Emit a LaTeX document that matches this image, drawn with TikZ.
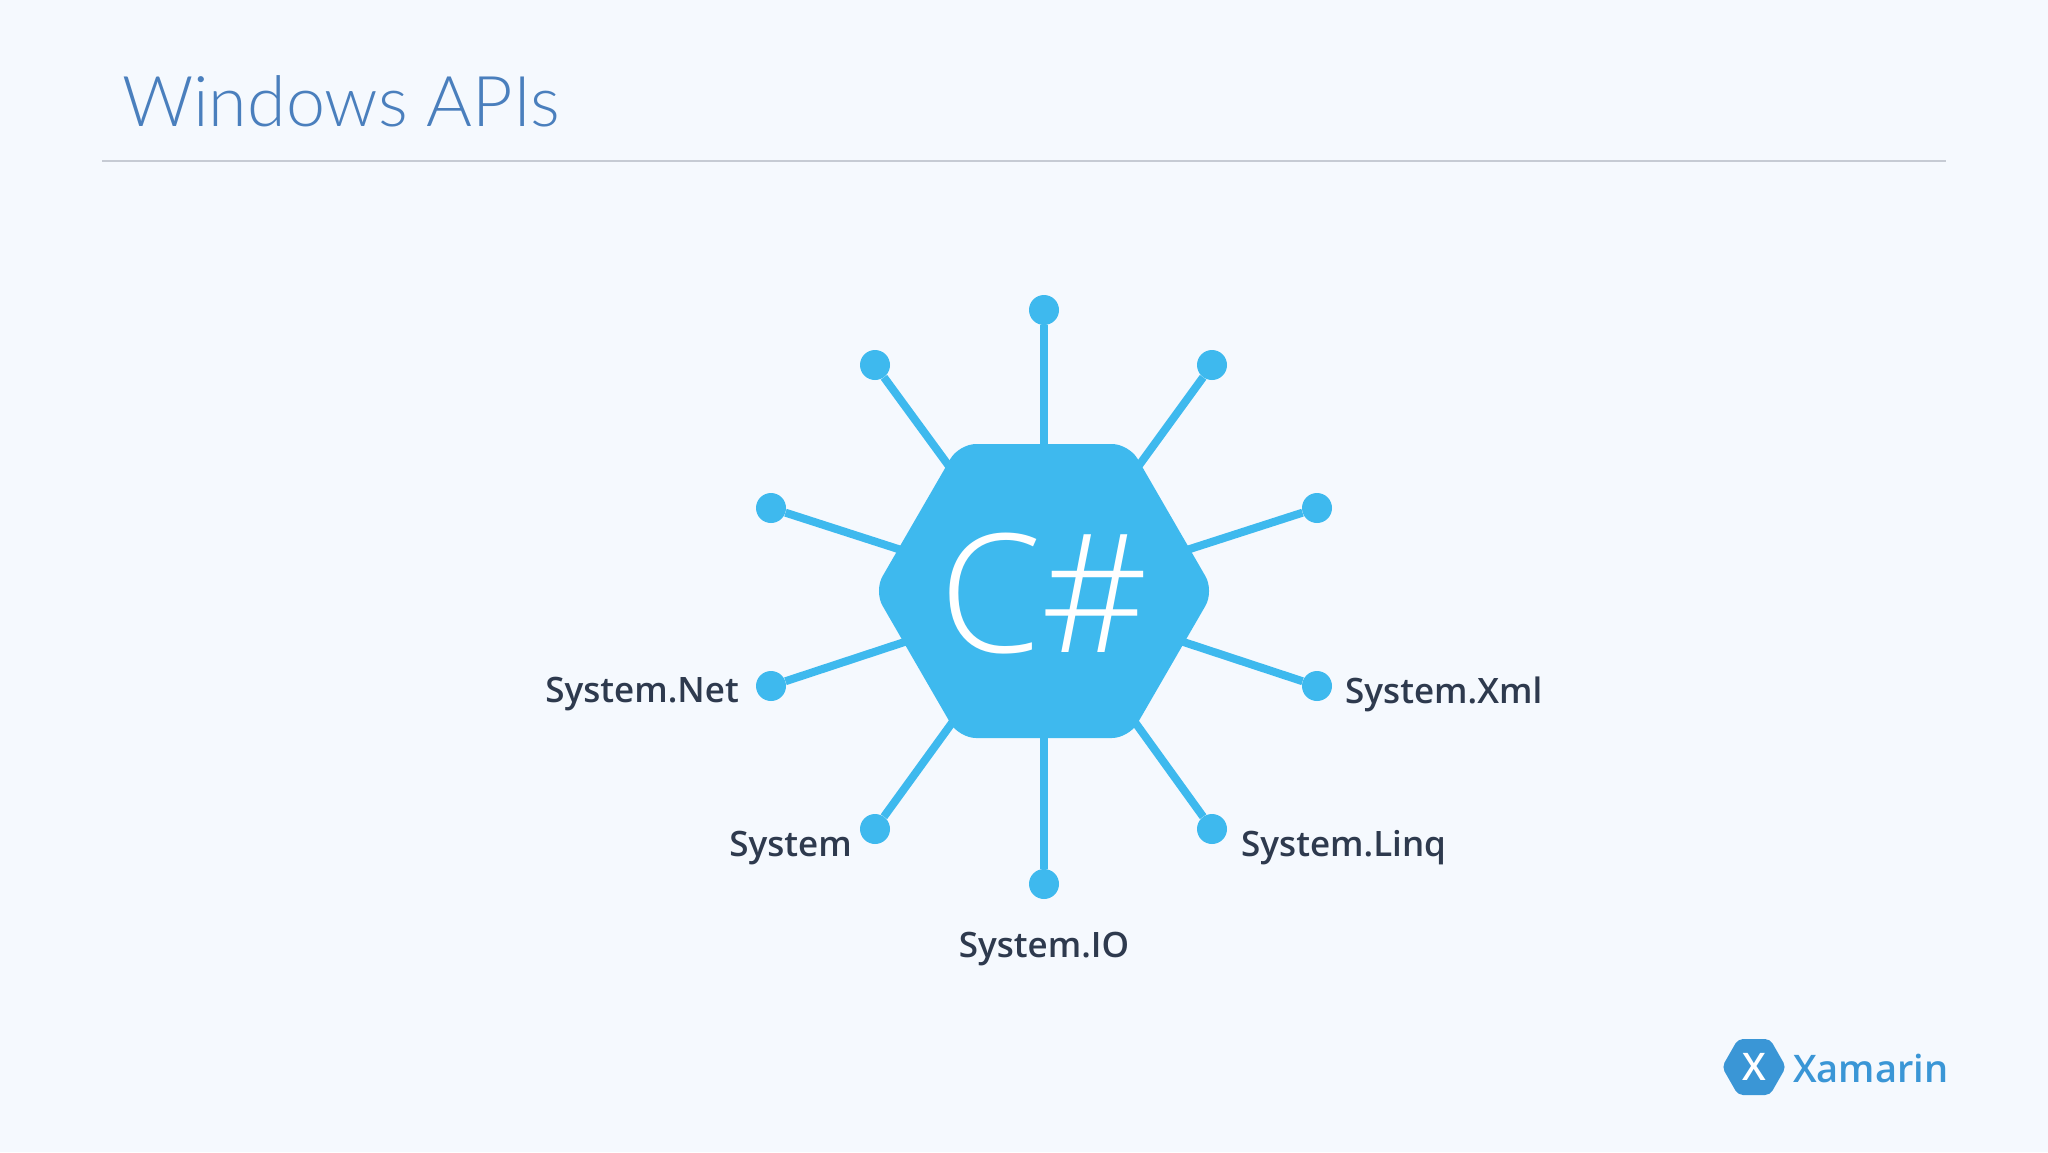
\documentclass[tikz,border=0pt]{standalone}
\usepackage{fontspec}
\setmainfont{Open Sans}
\newfontfamily\titlefont{Lato Light}
\newfontfamily\hubfont{Open Sans Light}
\newfontfamily\labelfont{Open Sans Semibold}
\definecolor{bgc}{HTML}{F5F9FE}
\definecolor{titlec}{HTML}{4A7FBD}
\definecolor{rulec}{HTML}{C6CBD4}
\definecolor{hubc}{HTML}{3EB9EE}
\definecolor{labelc}{HTML}{2E3A4E}
\definecolor{logoc}{HTML}{3A96D6}
\tikzset{
  dotnode/.style={circle,fill=hubc,inner sep=0pt,minimum size=30pt},
  spoke/.style={draw=hubc,line width=8pt},
  apilabel/.style={text=labelc,inner sep=0pt,font=\labelfont\fontsize{35}{35}\selectfont},
}
\begin{document}
\begin{tikzpicture}[x=1pt,y=-1pt]
\fill[bgc] (0,0) rectangle (2048,1152);
\useasboundingbox (0,0) rectangle (2048,1152);
\node[anchor=base west,inner sep=0pt,text=titlec,font=\titlefont\fontsize{70}{70}\selectfont] (title) at (122,126) {Windows APIs};
\coordinate (ruleL) at (102,161);
\coordinate (ruleR) at (1946,161);
\draw[rulec,line width=2pt] (ruleL) -- (ruleR);
\coordinate (hub) at (1044,596);
\node[dotnode] (d1) at (1044,310) {};
\node[dotnode] (d2) at (1212,365) {};
\node[dotnode] (d3) at (1317,508) {};
\node[dotnode] (d4) at (1317,686) {};
\node[dotnode] (d5) at (1212,829) {};
\node[dotnode] (d6) at (1044,884) {};
\node[dotnode] (d7) at (875,829) {};
\node[dotnode] (d8) at (771,686) {};
\node[dotnode] (d9) at (771,508) {};
\node[dotnode] (d10) at (875,365) {};
\foreach \i in {1,...,10} \draw[spoke] (hub) -- (d\i);
\fill[hubc,rounded corners=17pt] (959,444) -- (1129,444) -- (1214,591) -- (1129,738) -- (959,738) -- (874,591) -- cycle;
\node[text=white,inner sep=0pt,font=\hubfont\fontsize{165}{165}\selectfont] (cs) at (1044,594) {C\#};
\node[apilabel,anchor=west] (lxml) at (1345,694) {System.Xml};
\node[apilabel,anchor=west] (llinq) at (1241,848) {System.Linq};
\node[apilabel,anchor=north] (lio) at (1044,932) {System.IO};
\node[apilabel,anchor=east] (lsys) at (852,848) {System};
\node[apilabel,anchor=east] (lnet) at (739,694) {System.Net};
\fill[logoc,rounded corners=5pt] (1738,1039) -- (1770,1039) -- (1786,1067) -- (1770,1095) -- (1738,1095) -- (1722,1067) -- cycle;
\node[text=white,inner sep=0pt,font=\labelfont\fontsize{38}{38}\selectfont] (lx) at (1754,1067) {X};
\node[anchor=base west,inner sep=0pt,text=logoc,font=\labelfont\fontsize{38}{38}\selectfont] (lname) at (1793,1082) {Xamarin};
\end{tikzpicture}
\end{document}
